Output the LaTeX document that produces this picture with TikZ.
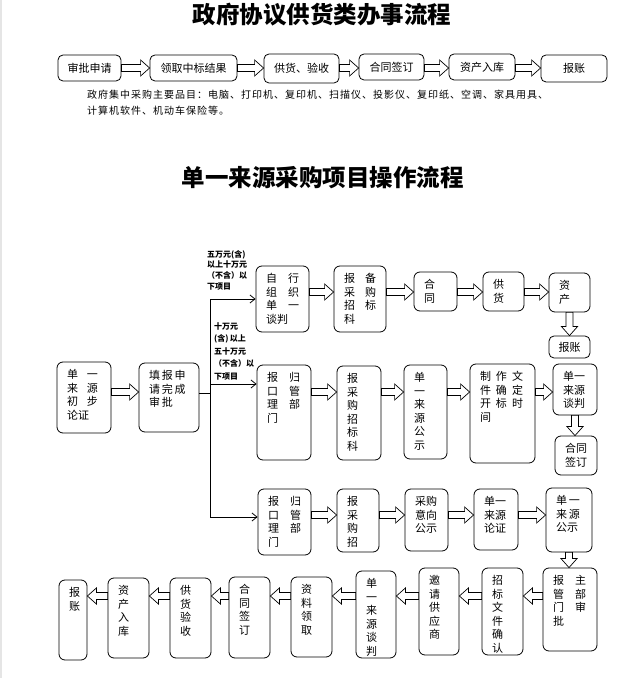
\documentclass[tikz,border=0pt]{standalone}
\usepackage{fontspec}
\usepackage{tikz}
\usetikzlibrary{arrows.meta,%
                calc,%
                positioning}
\newfontfamily\cjk{Noto Sans CJK SC}
\newfontfamily\cjkwide[LetterSpace=10]{Noto Sans CJK SC}
% lines at the top of a box: width, height, text
\newcommand\tb[3]{\vbox to \dimexpr#2pt-15pt\relax{\hbox to \dimexpr#1pt-20pt\relax{\begin{tabular}[t]{@{}l@{}}#3\end{tabular}\hss}\vss}}
\newcommand\gap{\hspace{11pt}}

\begin{document}
\begin{tikzpicture}[x=1pt,y=1pt,>={Straight Barb[length=5pt,width=8pt]},
  font=\cjk\fontsize{11}{13.5}\selectfont]
 \tikzset{box/.style={draw, line width=0.8pt, rounded corners=6pt,
                      inner xsep=10pt, inner ysep=7.5pt}}
 \tikzset{flat/.style 2 args={draw, line width=0.8pt, rounded corners=5pt,
                      inner sep=0pt, minimum width=#1, minimum height=#2}}
 \tikzset{barrow/.style={draw, fill=white, line width=0.7pt,
   to path={let \p1=(\tikztostart), \p2=(\tikztotarget),
                \p3=($(\p2)!9pt!(\p1)$) in
     ($(\p1)!3.5pt!90:(\p2)$) -- ($(\p3)!3.5pt!90:(\p2)$) -- ($(\p3)!8pt!90:(\p2)$)
     -- (\p2) -- ($(\p3)!8pt!-90:(\p2)$) -- ($(\p3)!3.5pt!-90:(\p2)$)
     -- ($(\p1)!3.5pt!-90:(\p2)$) -- cycle}}}
 \tikzset{cond/.style={font=\cjk\bfseries\fontsize{8}{#1}\selectfont,
                       align=left, inner sep=0pt, anchor=north west}}
 \tikzset{branch/.style={line width=0.8pt}}

 \useasboundingbox (0,0) rectangle (637,678);
 \fill[gray!20] (0,0) rectangle (2,678);

 \node[font=\cjk\bfseries\fontsize{23.5}{28}\selectfont] (head1) at (322,663) {政府协议供货类办事流程};
 \node[font=\cjk\bfseries\fontsize{23.5}{28}\selectfont] (head2) at (322.5,500) {单一来源采购项目操作流程};

 \node[flat={63pt}{26pt}] (t1) at (89.5,610) {审批申请};
 \node[flat={87pt}{26pt}] (t2) at (193.5,610) {领取中标结果};
 \node[flat={75pt}{29pt}] (t3) at (301.5,609.5) {供货、验收};
 \node[flat={65pt}{26pt}] (t4) at (391.5,611) {合同签订};
 \node[flat={66pt}{26pt}] (t5) at (482,611) {资产入库};
 \node[flat={66pt}{27pt}] (t6) at (574,609.5) {报账};

 \node[anchor=north west, inner sep=0pt, align=left,
       font=\cjkwide\fontsize{10}{16}\selectfont] (items) at (87,588)
  {政府集中采购主要品目：电脑、打印机、复印机、扫描仪、投影仪、复印纸、空调、家具用具、\\计算机软件、机动车保险等。};

 \node[box] (l1) at (84,280.5) {\tb{54}{71}{单\hspace{9pt}一\\来\hspace{9pt}源\\初\hspace{9pt}步\\论证}};
 \node[box] (l2) at (169,280.5) {\tb{60}{69}{填\,报\,申\\请\,完\,成\\审\,批}};

 \node[box] (a1) at (282.5,379) {\tb{53}{66}{自\gap 行\\组\gap 织\\单\gap 一\\谈判}};
 \node[box] (a2) at (360,379) {\tb{52}{66}{报\hspace{10pt}备\\采\hspace{10pt}购\\招\hspace{10pt}标\\科}};
 \node[box] (a3) at (435.5,386.5) {\tb{43}{39}{合\\同}};
 \node[box] (a4) at (503.5,386.5) {\tb{41}{39}{供\\货}};
 \node[box] (a5) at (569.5,385.5) {\tb{41}{39}{资\\产}};
 \node[flat={41pt}{22pt}] (a6) at (569.5,331) {报账};

 \node[box] (b1) at (284,265.5) {\tb{54}{95}{报\gap 归\\口\gap 管\\理\gap 部\\门}};
 \node[box] (b2) at (359,265) {\tb{44}{94}{报\\采\\购\\招\\标\\科}};
 \node[box] (b3) at (425.5,266) {\tb{43}{94}{单\\一\\来\\源\\公\\示}};
 \node[box] (b4) at (502.5,264.5) {\tb{65}{99}{制\hspace{5pt}作\hspace{5pt}文\\件\hspace{5pt}确\hspace{5pt}定\\开\hspace{5pt}标\hspace{5pt}时\\间}};
 \node[box] (b5) at (575,288.5) {\tb{44}{51}{单一\\来源\\谈判}};
 \node[box] (b6) at (576,222.5) {\tb{42}{39}{合同\\签订}};

 \node[box] (c1) at (284.5,156) {\tb{53}{66}{报\gap 归\\口\gap 管\\理\gap 部\\门}};
 \node[box] (c2) at (358,157.5) {\tb{42}{63}{报\\采\\购\\招}};
 \node[box] (c3) at (426.5,158) {\tb{43}{62}{采购\\意向\\公示}};
 \node[box] (c4) at (496,158.5) {\tb{44}{61}{单一\\来源\\论证}};
 \node[box] (c5) at (569,158) {\tb{46}{64}{单\hspace{2pt}一\\来\hspace{2pt}源\\公示}};

 \node[box] (d1) at (570,68.5) {\tb{54}{83}{报\gap 主\\管\gap 部\\门\gap 审\\批}};
 \node[box] (d2) at (502.5,66.5) {\tb{41}{87}{招\\标\\文\\件\\确\\认}};
 \node[box] (d3) at (439,66.5) {\tb{40}{87}{邀\\请\\供\\应\\商}};
 \node[box] (d4) at (376,63.5) {\tb{40}{87}{单\\一\\来\\源\\谈\\判}};
 \node[box] (d5) at (311.5,61) {\tb{41}{80}{资\\料\\领\\取}};
 \node[box] (d6) at (249.5,60.5) {\tb{41}{81}{合\\同\\签\\订}};
 \node[box] (d7) at (190.5,60) {\tb{41}{80}{供\\货\\验\\收}};
 \node[box] (d8) at (128.5,60) {\tb{41}{80}{资\\产\\入\\库}};
 \node[box] (d9) at (73,58) {\tb{28}{80}{报\\账}};

 \coordinate (rowT) at (0,610);
 \coordinate (rowA) at (0,386);
 \coordinate (rowB) at (0,286);
 \coordinate (rowC) at (0,163);
 \coordinate (rowD) at (0,82);
 \coordinate (jn) at (210,285);

 \path[barrow] (t1.east |- rowT) to (t2.west |- rowT);
 \path[barrow] (t2.east |- rowT) to (t3.west |- rowT);
 \path[barrow] (t3.east |- rowT) to (t4.west |- rowT);
 \path[barrow] (t4.east |- rowT) to (t5.west |- rowT);
 \path[barrow] (t5.east |- rowT) to (t6.west |- rowT);

 \path[barrow] (l1.east |- rowB) to (l2.west |- rowB);

 \path[barrow] (a1.east |- rowA) to (a2.west |- rowA);
 \path[barrow] (a2.east |- rowA) to (a3.west |- rowA);
 \path[barrow] (a3.east |- rowA) to (a4.west |- rowA);
 \path[barrow] (a4.east |- rowA) to (a5.west |- rowA);
 \path[barrow] (a5.south) to (a5.south |- a6.north);

 \path[barrow] (b1.east |- rowB) to (b2.west |- rowB);
 \path[barrow] (b2.east |- rowB) to (b3.west |- rowB);
 \path[barrow] (b3.east |- rowB) to (b4.west |- rowB);
 \path[barrow] (b4.east |- rowB) to (b5.west |- rowB);
 \path[barrow] (b5.south) to (b5.south |- b6.north);

 \path[barrow] (c1.east |- rowC) to (c2.west |- rowC);
 \path[barrow] (c2.east |- rowC) to (c3.west |- rowC);
 \path[barrow] (c3.east |- rowC) to (c4.west |- rowC);
 \path[barrow] (c4.east |- rowC) to (c5.west |- rowC);
 \path[barrow] (c5.south) to (c5.south |- d1.north);

 \path[barrow] (d1.west |- rowD) to (d2.east |- rowD);
 \path[barrow] (d2.west |- rowD) to (d3.east |- rowD);
 \path[barrow] (d3.west |- rowD) to (d4.east |- rowD);
 \path[barrow] (d4.west |- rowD) to (d5.east |- rowD);
 \path[barrow] (d5.west |- rowD) to (d6.east |- rowD);
 \path[barrow] (d6.west |- rowD) to (d7.east |- rowD);
 \path[barrow] (d7.west |- rowD) to (d8.east |- rowD);
 \path[barrow] (d8.west |- rowD) to (d9.east |- rowD);

 \draw[branch] (l2.east |- jn) -- (jn);
 \draw[branch,->] (jn) |- (a1.west);
 \draw[branch,->] (jn) |- ([yshift=28.5pt]b1.west);
 \draw[branch,->] (jn) |- ([yshift=5pt]c1.west);

 \node[cond=10.7] (lim1) at (207,428) {五万元(含)\\以上十万元\\（不含）以\\下项目};
 \node[cond=12.5] (lim2) at (214,356) {十万元\\(含)\,以上\\五十万元\\（不含）以\\下项目};

\end{tikzpicture}
\end{document}
